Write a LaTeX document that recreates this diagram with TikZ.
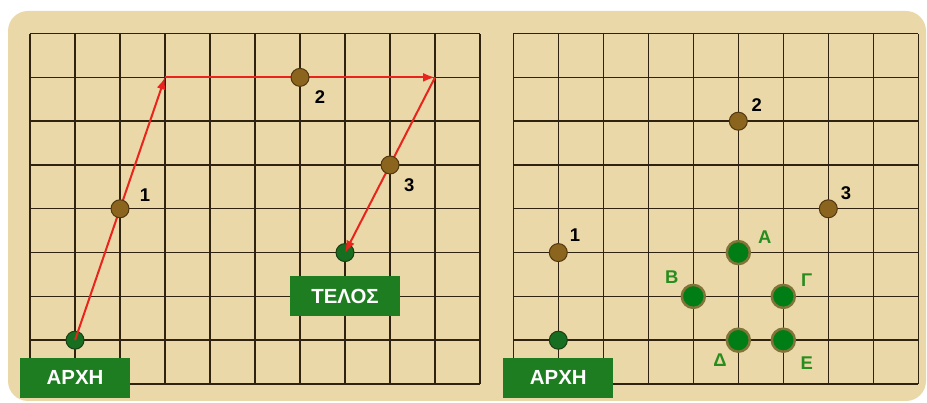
\documentclass[tikz,border=0pt]{standalone}
\usepackage{xcolor}
\usepackage{fontspec}
\setmainfont{Liberation Sans}
\usepackage{tikz}
\usetikzlibrary{arrows.meta, positioning}

\definecolor{papyrus}{RGB}{234,216,168}
\definecolor{gridbrown}{RGB}{48,34,16}
\definecolor{routered}{RGB}{232,36,28}
\definecolor{stonefill}{RGB}{139,100,30}
\definecolor{stoneedge}{RGB}{82,56,16}
\definecolor{pawnfill}{RGB}{22,110,32}
\definecolor{pawnedge}{RGB}{30,62,20}
\definecolor{bigfill}{RGB}{0,125,20}
\definecolor{bigedge}{RGB}{128,116,56}
\definecolor{tagfill}{RGB}{30,125,32}
\definecolor{lettergreen}{RGB}{40,140,30}

\begin{document}
\begin{tikzpicture}[x=45bp, y=43.8bp, >=Latex,
  gridline/.style = {draw=gridbrown, line width=1.4bp},
  route/.style    = {draw=routered, line width=2bp, -{Latex[length=12bp, width=9bp]}},
  stone/.style    = {circle, draw=stoneedge, fill=stonefill, line width=1bp,
                     minimum size=18bp, inner sep=0pt},
  pawn/.style     = {circle, draw=pawnedge, fill=pawnfill, line width=1bp,
                     minimum size=18bp, inner sep=0pt},
  bigpawn/.style  = {circle, draw=bigedge, fill=bigfill, line width=2.5bp,
                     minimum size=23bp, inner sep=0pt},
  tag/.style      = {fill=tagfill, text=white, minimum width=110bp,
                     minimum height=40bp, inner sep=0pt,
                     font=\fontsize{20.5}{20.5}\selectfont\bfseries},
  num/.style      = {font=\fontsize{18.5}{18.5}\selectfont\bfseries, inner sep=0pt},
  letter/.style   = {num, text=lettergreen}
]
  \useasboundingbox (-0.667,-0.434) rectangle (19.933,8.767);

  %% papyrus panel
  \fill[papyrus, rounded corners=20bp] (-0.489,-0.388) rectangle (19.911,8.516);

  %% left board: the route
  \foreach \i in {0,...,10} \draw[gridline] (\i,0) -- (\i,8);
  \foreach \j in {0,...,8} \draw[gridline] (0,\j) -- (10,\j);

  \node[pawn] (s1) at (1,1) {};
  \node[pawn] (e1) at (7,3) {};
  \coordinate (c1) at (3,7);
  \coordinate (c2) at (9,7);

  \draw[route] (s1.center) -- (c1);
  \draw[route] (c1) -- (c2);
  \draw[route] (c2) -- (e1.center);

  \node[stone] (p1) at (2,4) {};
  \node[stone] (p2) at (6,7) {};
  \node[stone] (p3) at (8,5) {};
  \node[num] (n1) at (2.556,4.315) {1};
  \node[num] (n2) at (6.444,6.553) {2};
  \node[num] (n3) at (8.43,4.544)  {3};

  \node[tag, below=8bp of s1]  (start1) {ΑΡΧΗ};
  \node[tag, below=14bp of e1] (end1)   {ΤΕΛΟΣ};

  %% right board: the candidate ends
  \begin{scope}[shift={(10.74,0)}]
    \foreach \i in {0,...,9} \draw[gridline] (\i,0) -- (\i,8);
    \foreach \j in {0,...,8} \draw[gridline] (0,\j) -- (9,\j);

    \node[pawn]  (s2) at (1,1) {};
    \node[stone] (q1) at (1,3) {};
    \node[stone] (q2) at (5,6) {};
    \node[stone] (q3) at (7,4) {};
    \node[num] (m1) at (1.37,3.40) {1};
    \node[num] (m2) at (5.41,6.37) {2};
    \node[num] (m3) at (7.39,4.36) {3};

    \node[bigpawn] (gA) at (5,3) {};
    \node[bigpawn] (gB) at (4,2) {};
    \node[bigpawn] (gG) at (6,2) {};
    \node[bigpawn] (gD) at (5,1) {};
    \node[bigpawn] (gE) at (6,1) {};
    \node[letter] (lA) at (5.59,3.36) {Α};
    \node[letter] (lB) at (3.52,2.44) {Β};
    \node[letter] (lG) at (6.52,2.37) {Γ};
    \node[letter] (lD) at (4.59,0.55) {Δ};
    \node[letter] (lE) at (6.52,0.48) {Ε};

    \node[tag, below=8bp of s2] (start2) {ΑΡΧΗ};
  \end{scope}
\end{tikzpicture}
\end{document}
